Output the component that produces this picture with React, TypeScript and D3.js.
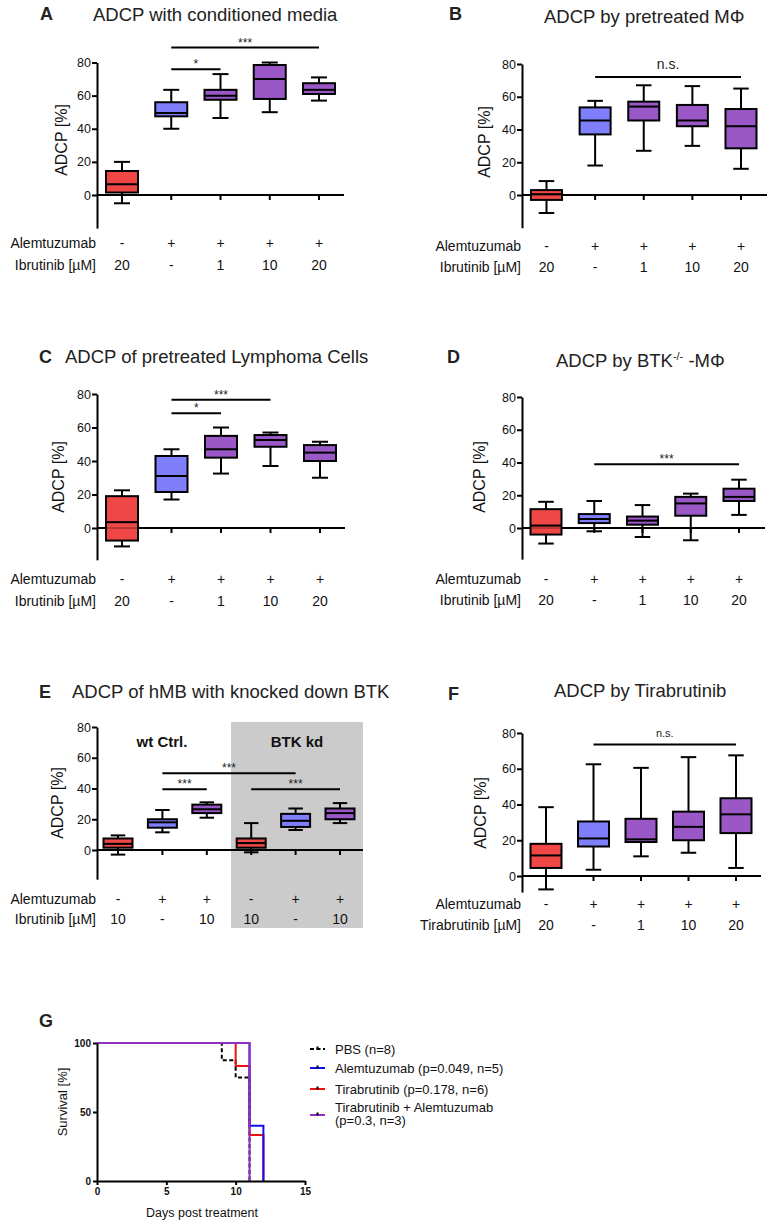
import * as d3 from "d3";
import { useRef, useEffect, ReactNode } from "react";

const FONT = "'Liberation Sans', Arial, Helvetica, sans-serif";

// box stats per group: [min, q1, median, q3, max]
const aStats = [[-5, 1.5, 6.5, 14.5, 20], [40, 47.5, 49.5, 56, 63.5], [46.5, 57.5, 60, 63.5, 73], [50, 58, 70, 78.5, 80], [57, 61, 63.5, 67.5, 71]];
const bStats = [[-11, -3, 0.5, 3, 8.5], [18, 37, 45.5, 53.5, 57.5], [27, 45.5, 54, 57, 67], [30, 42, 45.5, 55, 66.5], [16, 28.5, 42, 52.5, 65]];
const cStats = [[-11, -7.5, 3.5, 19, 22.5], [17, 21.5, 31, 43, 47], [32.5, 42, 47, 55, 60], [37, 48.5, 52.5, 55.5, 57], [30, 40, 45, 49.5, 51.5]];
const dStats = [[-9.5, -4, 1.5, 11.5, 16], [-2, 3, 5.5, 8.5, 16.5], [-5.5, 2, 4.5, 7, 14], [-7.5, 7.5, 15, 19, 21], [8, 16.5, 19, 24, 29.5]];
const eStats = [[-3, 1.5, 4, 7.5, 9.5], [11.5, 14.5, 18, 20, 26], [21, 24, 26.5, 29.5, 31], [-1.5, 1.5, 4.5, 7.5, 17.5], [13, 15, 19, 23.5, 27], [17.5, 20, 24, 27, 30.5]];
const fStats = [[-7.5, 4.5, 11.5, 18, 38.5], [3.5, 16.5, 21, 30.5, 62.5], [11, 19, 20.5, 32, 60.5], [13, 20, 27.5, 36, 66.5], [4.5, 24, 34.5, 43.5, 67.5]];

const groups5 = ["ibru", "alem", "combo", "combo", "combo"];
const groupsE = ["ibru", "alem", "combo", "ibru", "alem", "combo"];

const alem5 = ["-", "+", "+", "+", "+"];
const dose5 = ["20", "-", "1", "10", "20"];
const alemE = ["-", "+", "+", "-", "+", "+"];
const doseE = ["10", "-", "10", "10", "-", "10"];
const yTicks = [0, 20, 40, 60, 80];

// significance bars: [from group, to group, value, label]
type Sig = [number, number, number, string];
const aSig: Sig[] = [[1, 4, 89, "***"], [1, 2, 76, "*"]];
const bSig: Sig[] = [[1, 4, 72, "n.s."]];
const cSig: Sig[] = [[1, 3, 76.5, "***"], [1, 2, 68.5, "*"]];
const dSig: Sig[] = [[1, 4, 39, "***"]];
const eSig: Sig[] = [[1, 4, 50, "***"], [1, 2, 39.5, "***"], [3, 5, 39.5, "***"]];
const fSig: Sig[] = [[1, 4, 73.5, "n.s."]];

// survival (Kaplan-Meier steps)
const pbsDays = [0, 9, 10, 11];
const pbsSurv = [100, 87.5, 75, 0];
const alemDays = [0, 11, 12];
const alemSurv = [100, 40, 0];
const tiraDays = [0, 10, 11, 12];
const tiraSurv = [100, 83.3, 33.3, 0];
const comboDays = [0, 11];
const comboSurv = [100, 0];
const survNames = ["PBS (n=8)", "Alemtuzumab (p=0.049, n=5)", "Tirabrutinib (p=0.178, n=6)", "Tirabrutinib + Alemtuzumab|(p=0.3, n=3)"];
const survTicksX = [0, 5, 10, 15];
const survTicksY = [0, 50, 100];

const color = d3.scaleOrdinal<string, string>().domain(["ibru", "alem", "combo"]).range(["#ef4646", "#7f7ffb", "#9a58c6"]);

type Geo = {
  lx: number; ly: number; tx: number; ty: number;
  ax: number; xEnd: number; y0: number; y80: number; yMin: number;
  cat: [number, number]; bw: number; r1y: number; r2y: number;
  ylx: number; yly: number;
};

function BoxPanel({ g, letter, title, stats, groups, row1, row2, row2Label, sigs, sigSize = 12, children }: {
  g: Geo; letter: string; title: ReactNode; stats: number[][]; groups: string[];
  row1: string[]; row2: string[]; row2Label: string; sigs: Sig[]; sigSize?: number; children?: ReactNode;
}) {
  const gy = useRef<SVGGElement>(null);
  const y = d3.scaleLinear().domain([0, 80]).range([g.y0, g.y80]);
  const yAx = d3.scaleLinear().domain([g.yMin, 80]).range([y(g.yMin), g.y80]);
  const x = d3.scalePoint<number>().domain(d3.range(stats.length)).range(g.cat);
  const bw = g.bw;

  useEffect(() => {
    const s = d3.select(gy.current!);
    s.call(d3.axisLeft(yAx).tickValues(yTicks).tickSize(5).tickSizeOuter(0).tickPadding(1));
    s.attr("font-family", FONT).attr("font-size", 12.5);
    s.select(".domain").attr("stroke-width", 2);
    s.selectAll(".tick line").attr("stroke-width", 2);
    s.selectAll(".tick text").attr("fill", "#111");
  });

  return (
    <g fontFamily={FONT}>
      {children}
      <text x={g.lx} y={g.ly} fontSize={18} fontWeight="bold" fill="#222">{letter}</text>
      <text x={g.tx} y={g.ty} fontSize={18.5} fill="#222">{title}</text>
      <text transform={`translate(${g.ylx},${g.yly}) rotate(-90)`} textAnchor="middle" dy="0.35em" fontSize={16} fill="#111">ADCP [%]</text>
      <g ref={gy} transform={`translate(${g.ax},0)`} />
      <line x1={g.ax} x2={g.xEnd} y1={y(0)} y2={y(0)} stroke="#000" strokeWidth={2} />
      {stats.map((_, i) => (
        <line key={i} x1={x(i)} x2={x(i)} y1={y(0)} y2={y(0) + 5} stroke="#000" strokeWidth={2} />
      ))}
      {stats.map(([lo, q1, md, q3, hi], i) => {
        const cx = x(i)!;
        return (
          <g key={i} stroke="#000" strokeWidth={2}>
            <line x1={cx} x2={cx} y1={y(lo)} y2={y(q1)} />
            <line x1={cx} x2={cx} y1={y(q3)} y2={y(hi)} />
            <line x1={cx - bw / 4} x2={cx + bw / 4} y1={y(lo)} y2={y(lo)} />
            <line x1={cx - bw / 4} x2={cx + bw / 4} y1={y(hi)} y2={y(hi)} />
            <rect x={cx - bw / 2} y={y(q3)} width={bw} height={y(q1) - y(q3)} fill={color(groups[i])} />
            <line x1={cx - bw / 2} x2={cx + bw / 2} y1={y(md)} y2={y(md)} />
          </g>
        );
      })}
      <line x1={g.ax} x2={g.xEnd} y1={y(0)} y2={y(0)} stroke="#000" strokeWidth={1.5} strokeOpacity={0.3} />
      {sigs.map(([a, b, v, lab], i) => (
        <g key={i}>
          <line x1={x(a)} x2={x(b)} y1={y(v)} y2={y(v)} stroke="#000" strokeWidth={2} />
          <text x={(x(a)! + x(b)!) / 2} y={y(v) - (lab === "n.s." ? 8 : 1)} textAnchor="middle" fontSize={lab === "n.s." ? sigSize + 2 : 12} fill="#222">{lab}</text>
        </g>
      ))}
      <g fontSize={14} fill="#111">
        <text x={g.ax - 1} y={g.r1y} textAnchor="end">Alemtuzumab</text>
        <text x={g.ax - 1} y={g.r2y} textAnchor="end">{row2Label}</text>
        {row1.map((t, i) => <text key={"a" + i} x={x(i)} y={g.r1y} textAnchor="middle">{t}</text>)}
        {row2.map((t, i) => <text key={"b" + i} x={x(i)} y={g.r2y} textAnchor="middle">{t}</text>)}
      </g>
    </g>
  );
}

function Survival() {
  const gx = useRef<SVGGElement>(null);
  const gy = useRef<SVGGElement>(null);
  const x = d3.scaleLinear().domain([0, 15]).range([97, 305]);
  const y = d3.scaleLinear().domain([0, 100]).range([1181, 1043]);
  const line = d3.line<[number, number]>().x(d => x(d[0])).y(d => y(d[1])).curve(d3.curveStepAfter);
  const zip = (t: number[], s: number[]) => t.map((d, i) => [d, s[i]] as [number, number]);
  const series = [
    { pts: zip(pbsDays, pbsSurv), c: "#000", dash: "4,2.5" },
    { pts: zip(alemDays, alemSurv), c: "#1010ee", dash: "" },
    { pts: zip(tiraDays, tiraSurv), c: "#f01010", dash: "" },
    { pts: zip(comboDays, comboSurv), c: "#9030c0", dash: "" },
  ];
  // draw order: PBS, Tirabrutinib, Alemtuzumab, combination on top
  const drawOrder = [0, 2, 1, 3];
  const legY = [1049, 1068, 1089, 1115];

  useEffect(() => {
    const sx = d3.select(gx.current!);
    sx.call(d3.axisBottom(x).tickValues(survTicksX).tickSize(4).tickSizeOuter(0).tickPadding(3));
    const sy = d3.select(gy.current!);
    sy.call(d3.axisLeft(y).tickValues(survTicksY).tickSize(4).tickSizeOuter(0).tickPadding(2));
    [sx, sy].forEach(s => {
      s.attr("font-family", FONT).attr("font-size", 10).attr("font-weight", "bold");
      s.select(".domain").attr("stroke-width", 2);
      s.selectAll(".tick line").attr("stroke-width", 2);
      s.selectAll(".tick text").attr("fill", "#111");
    });
  });

  return (
    <g fontFamily={FONT}>
      <text x={39} y={1027} fontSize={18} fontWeight="bold" fill="#222">G</text>
      {drawOrder.map(i => (
        <path key={i} d={line(series[i].pts)!} fill="none" stroke={series[i].c} strokeWidth={2} strokeDasharray={series[i].dash || undefined} />
      ))}
      <g ref={gx} transform={`translate(0,${y(0)})`} />
      <g ref={gy} transform={`translate(${x(0)},0)`} />
      <text transform={`translate(62,1102) rotate(-90)`} textAnchor="middle" dy="0.35em" fontSize={13} fill="#111">Survival [%]</text>
      <text x={202} y={1217} textAnchor="middle" fontSize={12.5} fill="#111">Days post treatment</text>
      {survNames.map((n, i) => {
        const ly = legY[i];
        const parts = n.split("|");
        return (
          <g key={i}>
            <line x1={310} x2={325} y1={ly} y2={ly} stroke={series[i].c} strokeWidth={2} strokeDasharray={series[i].dash || undefined} />
            <rect x={316.5} y={ly - 2.5} width={2} height={3} fill="#000" />
            {parts.length === 1 ? (
              <text x={335} y={ly + 4.5} fontSize={13} fill="#111">{n}</text>
            ) : (
              <text x={335} y={ly - 3} fontSize={13} fill="#111">
                <tspan x={335}>{parts[0]}</tspan>
                <tspan x={335} dy={13}>{parts[1]}</tspan>
              </text>
            )}
          </g>
        );
      })}
    </g>
  );
}

const gA: Geo = { lx: 40, ly: 20, tx: 93, ty: 21, ax: 97, xEnd: 344, y0: 195, y80: 62.5, yMin: -20, cat: [122, 319], bw: 32, r1y: 247.5, r2y: 269.5, ylx: 61, yly: 140 };
const gB: Geo = { lx: 449, ly: 20, tx: 544, ty: 23, ax: 522, xEnd: 767, y0: 195, y80: 64, yMin: -20, cat: [546.5, 741], bw: 31, r1y: 251, r2y: 272, ylx: 484, yly: 142 };
const gC: Geo = { lx: 39, ly: 363, tx: 65, ty: 363, ax: 97, xEnd: 345, y0: 528, y80: 394, yMin: -19, cat: [122, 320], bw: 32, r1y: 584, r2y: 606, ylx: 58, yly: 477 };
const gD: Geo = { lx: 447, ly: 363, tx: 556, ty: 367, ax: 522, xEnd: 765, y0: 528, y80: 397, yMin: -19, cat: [546, 739], bw: 31, r1y: 584, r2y: 605, ylx: 479, yly: 477 };
const gE: Geo = { lx: 39, ly: 698, tx: 72, ty: 698, ax: 97, xEnd: 363, y0: 850, y80: 727, yMin: -19, cat: [118, 340], bw: 29, r1y: 904, r2y: 924, ylx: 57, yly: 803 };
const gF: Geo = { lx: 448, ly: 700, tx: 554, ty: 697, ax: 522, xEnd: 761, y0: 876, y80: 733, yMin: -9, cat: [546, 736], bw: 31, r1y: 909, r2y: 930, ylx: 480, yly: 813 };

export default function App() {
  return (
    <svg width={774} height={1224} style={{ position: "absolute", left: 0, top: 0, background: "#fff" }}>
      <rect width={774} height={1224} fill="#fff" />
      <BoxPanel g={gA} letter="A" title="ADCP with conditioned media" stats={aStats} groups={groups5} row1={alem5} row2={dose5} row2Label="Ibrutinib [µM]" sigs={aSig} />
      <BoxPanel g={gB} letter="B" title="ADCP by pretreated MΦ" stats={bStats} groups={groups5} row1={alem5} row2={dose5} row2Label="Ibrutinib [µM]" sigs={bSig} />
      <BoxPanel g={gC} letter="C" title="ADCP of pretreated Lymphoma Cells" stats={cStats} groups={groups5} row1={alem5} row2={dose5} row2Label="Ibrutinib [µM]" sigs={cSig} />
      <BoxPanel g={gD} letter="D" title={<>ADCP by BTK<tspan fontSize={11} dy={-7}>-/-</tspan><tspan dy={7}> -MΦ</tspan></>} stats={dStats} groups={groups5} row1={alem5} row2={dose5} row2Label="Ibrutinib [µM]" sigs={dSig} />
      <BoxPanel g={gE} letter="E" title="ADCP of hMB with knocked down BTK" stats={eStats} groups={groupsE} row1={alemE} row2={doseE} row2Label="Ibrutinib [µM]" sigs={eSig}>
        <rect x={231} y={722} width={132} height={206} fill="#cbcbcb" />
        <text x={162} y={747} textAnchor="middle" fontSize={15} fontWeight="bold" fill="#111">wt Ctrl.</text>
        <text x={297} y={747} textAnchor="middle" fontSize={15} fontWeight="bold" fill="#111">BTK kd</text>
      </BoxPanel>
      <BoxPanel g={gF} letter="F" title="ADCP by Tirabrutinib" stats={fStats} groups={groups5} row1={alem5} row2={dose5} row2Label="Tirabrutinib [µM]" sigs={fSig} sigSize={9} />
      <Survival />
    </svg>
  );
}
